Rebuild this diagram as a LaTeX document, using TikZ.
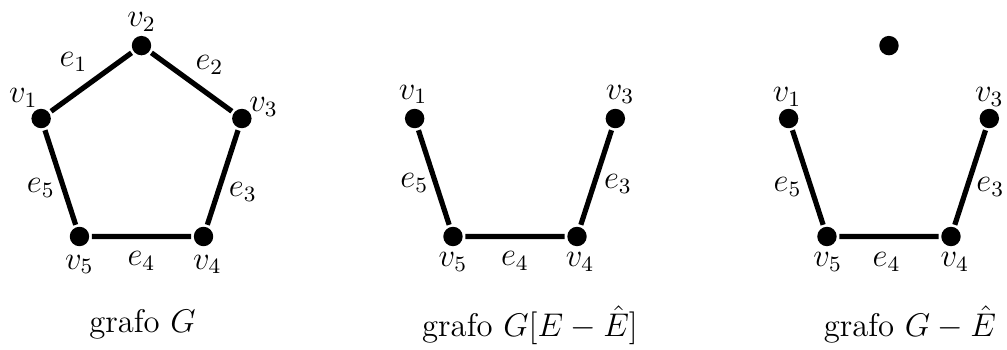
\documentclass[12pt,tikz,border=0pt]{standalone}
\usetikzlibrary{calc}

\tikzset{vert/.style={circle, fill, inner sep=0pt, minimum size=0.25cm}}

\begin{document}
\begin{tikzpicture}[line width=1.9pt]
  \useasboundingbox (0,0) rectangle (12.96,4.50);
  % grafo G
  \begin{scope}[shift={(1.821,2.555)}]
    \foreach \i in {1,...,5} \node[vert] (a\i) at ({234-72*\i}:1.358) {};
    \draw (a1) -- (a2) -- (a3) -- (a4) -- (a5) -- (a1);
    \node (va1) at ($(a1)+(-0.23,0.27)$) {$v_1$};
    \node (va2) at ($(a2)+(0,0.31)$) {$v_2$};
    \node (va3) at ($(a3)+(0.28,0.15)$) {$v_3$};
    \node (va4) at ($(a4)+(0.05,-0.36)$) {$v_4$};
    \node (va5) at ($(a5)+(0,-0.36)$) {$v_5$};
    \node (ea1) at ($(a1)!0.5!(a2)+(-0.23,0.26)$) {$e_1$};
    \node (ea2) at ($(a2)!0.5!(a3)+(0.23,0.22)$) {$e_2$};
    \node (ea3) at ($(a3)!0.5!(a4)+(0.26,-0.18)$) {$e_3$};
    \node (ea4) at ($(a4)!0.5!(a5)+(0,-0.32)$) {$e_4$};
    \node (ea5) at ($(a5)!0.5!(a1)+(-0.25,-0.14)$) {$e_5$};
  \end{scope}
  % grafo G[E-\hat E] (sin v_2)
  \begin{scope}[shift={(6.628,2.555)}]
    \foreach \i in {1,3,4,5} \node[vert] (b\i) at ({234-72*\i}:1.358) {};
    \draw (b1) -- (b5) -- (b4) -- (b3);
    \node (vb1) at ($(b1)+(-0.02,0.31)$) {$v_1$};
    \node (vb3) at ($(b3)+(0.06,0.31)$) {$v_3$};
    \node (vb4) at ($(b4)+(0.04,-0.33)$) {$v_4$};
    \node (vb5) at ($(b5)+(0,-0.33)$) {$v_5$};
    \node (eb3) at ($(b3)!0.5!(b4)+(0.28,-0.08)$) {$e_3$};
    \node (eb4) at ($(b4)!0.5!(b5)+(0,-0.32)$) {$e_4$};
    \node (eb5) at ($(b5)!0.5!(b1)+(-0.25,-0.07)$) {$e_5$};
  \end{scope}
  % grafo G-\hat E (v_2 aislado)
  \begin{scope}[shift={(11.441,2.555)}]
    \foreach \i in {1,...,5} \node[vert] (c\i) at ({234-72*\i}:1.358) {};
    \draw (c1) -- (c5) -- (c4) -- (c3);
    \node (vc1) at ($(c1)+(-0.02,0.28)$) {$v_1$};
    \node (vc3) at ($(c3)+(0,0.28)$) {$v_3$};
    \node (vc4) at ($(c4)+(0.05,-0.33)$) {$v_4$};
    \node (vc5) at ($(c5)+(0.01,-0.33)$) {$v_5$};
    \node (ec3) at ($(c3)!0.5!(c4)+(0.26,-0.12)$) {$e_3$};
    \node (ec4) at ($(c4)!0.5!(c5)+(-0.03,-0.33)$) {$e_4$};
    \node (ec5) at ($(c5)!0.5!(c1)+(-0.26,-0.12)$) {$e_5$};
  \end{scope}
  \node[anchor=base] (capa) at (1.834,0.219) {grafo $G$};
  \node[anchor=base] (capb) at (6.821,0.167) {grafo $G[E-\hat{E}]$};
  \node[anchor=base] (capc) at (11.71,0.167) {grafo $G-\hat{E}$};
\end{tikzpicture}
\end{document}
